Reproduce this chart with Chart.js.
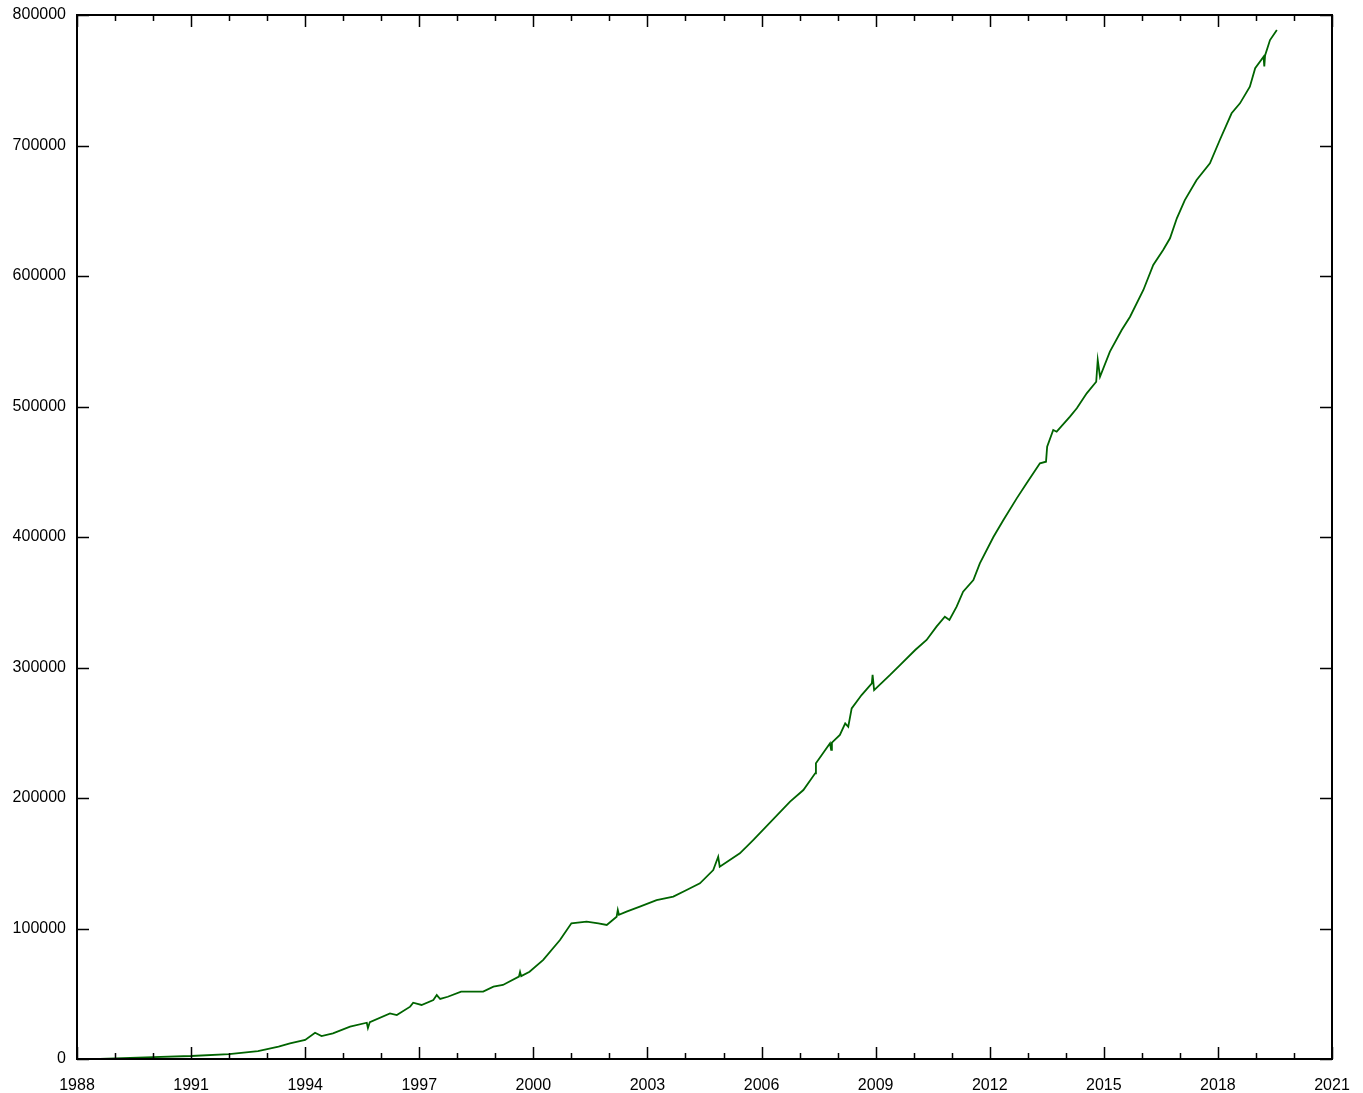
<!DOCTYPE html>
<html>
<head>
<meta charset="utf-8">
<script src="https://cdn.jsdelivr.net/npm/chart.js@4"></script>
<style>
  html, body { margin: 0; padding: 0; background: #fff; }
  #wrap { width: 1363px; height: 1093px; }
</style>
</head>
<body>
<div id="wrap"><canvas id="line-chart"></canvas></div>
<script>
// decimal years and counts
var years = [1988.6, 1989.0, 1990.0, 1991.0, 1992.0, 1992.76, 1993.3, 1993.6, 1994.0, 1994.26, 1994.43, 1994.73, 1995.18, 1995.62, 1995.65, 1995.7,
  1996.23, 1996.41, 1996.76, 1996.84, 1997.06, 1997.37, 1997.46, 1997.55, 1997.75, 1998.1, 1998.68, 1998.95, 1999.2, 1999.62, 1999.65, 1999.68, 1999.9,
  2000.26, 2000.7, 2001.0, 2001.4, 2001.71, 2001.93, 2002.19, 2002.22, 2002.25, 2002.45, 2002.8, 2003.24, 2003.68, 2004.03, 2004.38, 2004.73, 2004.86, 2004.9,
  2005.43, 2005.78, 2006.75, 2007.1, 2007.41, 2007.43, 2007.8, 2007.83, 2007.85, 2008.06, 2008.2, 2008.28, 2008.37, 2008.63, 2008.9, 2008.92, 2008.96,
  2009.38, 2009.64, 2010.04, 2010.34, 2010.6, 2010.82, 2010.94, 2011.13, 2011.3, 2011.57, 2011.74, 2012.1, 2012.36, 2012.71, 2012.97, 2013.32,
  2013.48, 2013.51, 2013.67, 2013.76, 2014.11, 2014.29, 2014.55, 2014.8, 2014.84, 2014.9, 2015.16, 2015.47, 2015.69, 2016.04, 2016.3, 2016.56,
  2016.74, 2016.92, 2017.13, 2017.44, 2017.79, 2018.05, 2018.36, 2018.58, 2018.84, 2018.98, 2019.2, 2019.22, 2019.24, 2019.37, 2019.55];
var counts = [0, 500, 1500, 2300, 3800, 6100, 9500, 12000, 14600, 20100, 17600, 19700, 24800, 27800, 23800, 28300,
  35000, 33700, 40100, 43100, 41400, 45200, 49000, 46000, 47700, 51600, 51600, 55400, 56700, 63100, 66700, 63500, 66900,
  75900, 91200, 104000, 105200, 104000, 102700, 109000, 114200, 110500, 112900, 116700, 121800, 124400, 129500, 134600, 144800, 155000, 147400,
  157600, 167800, 197200, 206100, 218900, 226600, 241900, 236900, 242500, 248300, 257200, 254600, 268700, 278900, 287900, 294300, 282700,
  294300, 301900, 313400, 321100, 331300, 338900, 336400, 346600, 358100, 367000, 379800, 400200, 413000, 429600, 441200, 456500,
  457700, 469200, 482000, 480700, 492200, 498600, 510100, 519000, 535600, 522800, 542000, 558600, 568800, 589300, 608400, 619900,
  628900, 644200, 658200, 673600, 686300, 704200, 724700, 732300, 745100, 759200, 768000, 760500, 769000, 780800, 788500];

var xMin = 1988, xMax = 2021;
var yMin = 0, yMax = 800000, yStep = 100000;

var points = years.map(function(y, i) { return { x: y, y: counts[i] }; });

// gnuplot style frame with ticks drawn inward on all four sides
var frameTicks = {
  id: 'frameTicks',
  afterDraw: function(chart) {
    var ctx = chart.ctx, a = chart.chartArea;
    var xs = chart.scales.x, ys = chart.scales.y;
    ctx.save();
    ctx.strokeStyle = '#000';
    ctx.lineWidth = 1.5;
    ctx.beginPath();
    for (var yr = xMin; yr <= xMax; yr++) {
      var px = Math.round(xs.getPixelForValue(yr)) + 0.5;
      var len = (yr - xMin) % 3 === 0 ? 12 : 6;
      ctx.moveTo(px, a.bottom); ctx.lineTo(px, a.bottom - len);
      ctx.moveTo(px, a.top); ctx.lineTo(px, a.top + len);
    }
    for (var v = yMin; v <= yMax; v += yStep) {
      var py = Math.round(ys.getPixelForValue(v)) + 0.5;
      ctx.moveTo(a.left, py); ctx.lineTo(a.left + 12, py);
      ctx.moveTo(a.right, py); ctx.lineTo(a.right - 12, py);
    }
    ctx.stroke();
    ctx.lineWidth = 2;
    ctx.strokeRect(a.left, a.top, a.right - a.left, a.bottom - a.top);
    ctx.restore();
  }
};

Chart.defaults.font.family = '"Liberation Sans", Arial, sans-serif';
Chart.defaults.font.size = 16;
Chart.defaults.color = '#000';

new Chart(document.getElementById('line-chart'), {
  type: 'line',
  data: {
    datasets: [{
      data: points,
      borderColor: '#006400',
      borderWidth: 1.8,
      pointRadius: 0,
      fill: false,
      tension: 0
    }]
  },
  options: {
    responsive: true,
    maintainAspectRatio: false,
    animation: false,
    layout: { padding: { top: 15, right: 31, left: 0, bottom: 0 } },
    plugins: {
      legend: { display: false },
      tooltip: { enabled: false }
    },
    scales: {
      x: {
        type: 'linear',
        min: xMin,
        max: xMax,
        grid: { display: false, drawTicks: false },
        border: { display: false },
        ticks: {
          stepSize: 3,
          padding: 17,
          maxRotation: 0,
          autoSkip: false,
          callback: function(v) { return String(v); }
        },
        afterFit: function(s) {
          s.height = 34;
          s.paddingLeft = 0;
          s.paddingRight = 0;
        }
      },
      y: {
        min: yMin,
        max: yMax,
        grid: { display: false, drawTicks: false },
        border: { display: false },
        ticks: {
          stepSize: yStep,
          padding: 11,
          callback: function(v) { return String(v); }
        },
        afterFit: function(s) {
          s.width = 77;
          s.paddingTop = 0;
          s.paddingBottom = 0;
        }
      }
    }
  },
  plugins: [frameTicks]
});
</script>
</body>
</html>
